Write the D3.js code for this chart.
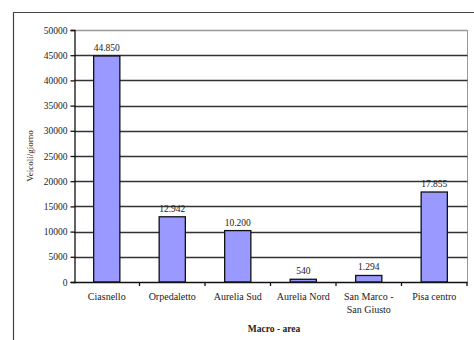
<!DOCTYPE html>
<html><head><meta charset="utf-8">
<script src="https://cdn.jsdelivr.net/npm/d3@7"></script>
<style>body{margin:0;background:#fff}svg{display:block}</style>
</head><body>
<script>
const categories = ["Ciasnello", "Orpedaletto", "Aurelia Sud", "Aurelia Nord", "San Marco -\nSan Giusto", "Pisa centro"];
const values = [44850, 12942, 10200, 540, 1294, 17855];
const valueLabels = ["44.850", "12.942", "10.200", "540", "1.294", "17.855"];
const yTicks = [0, 5000, 10000, 15000, 20000, 25000, 30000, 35000, 40000, 45000, 50000];
const yTitle = "Veicoli/giorno";
const xTitle = "Macro - area";

const FONT = "Liberation Serif, DejaVu Serif, Times New Roman, serif";
const W = 474, H = 340;
const L = 74, R = 467, T = 30, B = 282;
const svg = d3.select("body").append("svg").attr("width", W).attr("height", H)
  .attr("font-family", FONT);

// outer frame lines
svg.append("line").attr("x1", 13.5).attr("x2", 13.5).attr("y1", 12).attr("y2", H).attr("stroke", "#444").attr("stroke-width", 1.2);
svg.append("line").attr("x1", 13).attr("x2", W).attr("y1", 12.5).attr("y2", 12.5).attr("stroke", "#444").attr("stroke-width", 1.2);

const x = d3.scaleBand().domain(categories).range([L, R]).paddingInner(0.6).paddingOuter(0.3);
const xb = d3.scaleBand().domain(categories).range([L, R]);
const y = d3.scaleLinear().domain([0, 50000]).range([B, T]);

svg.append("line").attr("x1", R + 0.5).attr("x2", R + 0.5).attr("y1", T).attr("y2", B).attr("stroke", "#999");
svg.append("g").selectAll("line").data(yTicks.filter(d => d > 0)).join("line")
  .attr("x1", L).attr("x2", R + 0.5)
  .attr("y1", d => Math.round(y(d)) + 0.5).attr("y2", d => Math.round(y(d)) + 0.5)
  .attr("stroke", d => d === 50000 ? "#999" : "#333").attr("stroke-width", 1.3);

svg.append("g").selectAll("rect").data(values).join("rect")
  .attr("x", (d, i) => x(categories[i]))
  .attr("width", x.bandwidth())
  .attr("y", d => y(d))
  .attr("height", d => B - y(d))
  .attr("fill", "#9999FF").attr("stroke", "#111").attr("stroke-width", 1.3);

svg.append("g").selectAll("text").data(values).join("text")
  .attr("x", (d, i) => x(categories[i]) + x.bandwidth() / 2)
  .attr("y", d => y(d) - 5)
  .attr("text-anchor", "middle").attr("font-size", 9.5).attr("fill", "#222")
  .attr("font-family", FONT)
  .text((d, i) => valueLabels[i]);

const ya = svg.append("g").attr("transform", `translate(${L + 0.5},0)`)
  .call(d3.axisLeft(y).tickValues(yTicks).tickSize(4).tickPadding(3).tickFormat(d3.format("d")));
ya.attr("font-family", FONT);
ya.select(".domain").attr("stroke", "#111").attr("stroke-width", 1.3);
ya.selectAll(".tick line").attr("stroke", "#111").attr("stroke-width", 1.3);
ya.selectAll("text").attr("font-size", 9.5).attr("font-family", FONT).attr("fill", "#222");

svg.append("line").attr("x1", L).attr("x2", R + 0.5).attr("y1", B + 0.5).attr("y2", B + 0.5).attr("stroke", "#111").attr("stroke-width", 1.3);
svg.append("g").selectAll("line").data(categories).join("line")
  .attr("x1", d => xb(d) + xb.bandwidth()).attr("x2", d => xb(d) + xb.bandwidth())
  .attr("y1", B).attr("y2", B + 4).attr("stroke", "#111").attr("stroke-width", 1.3);

const cl = svg.append("g").selectAll("text").data(categories).join("text")
  .attr("x", d => xb(d) + xb.bandwidth() / 2)
  .attr("y", 300).attr("text-anchor", "middle").attr("font-size", 10).attr("fill", "#222")
  .attr("font-family", FONT);
cl.each(function(d) {
  const lines = d.split("\n");
  const t = d3.select(this);
  lines.forEach((ln, i) => t.append("tspan").attr("x", xb(d) + xb.bandwidth() / 2).attr("dy", i === 0 ? 0 : 13).text(ln));
});

svg.append("text").attr("transform", `translate(33,${(T + B) / 2}) rotate(-90)`)
  .attr("text-anchor", "middle").attr("font-size", 9).attr("fill", "#222").attr("font-family", FONT).text(yTitle);
svg.append("text").attr("x", 274).attr("y", 332).attr("text-anchor", "middle").attr("fill", "#222")
  .attr("font-size", 9.5).attr("font-weight", "bold").attr("font-family", FONT).text(xTitle);
</script>
</body></html>
